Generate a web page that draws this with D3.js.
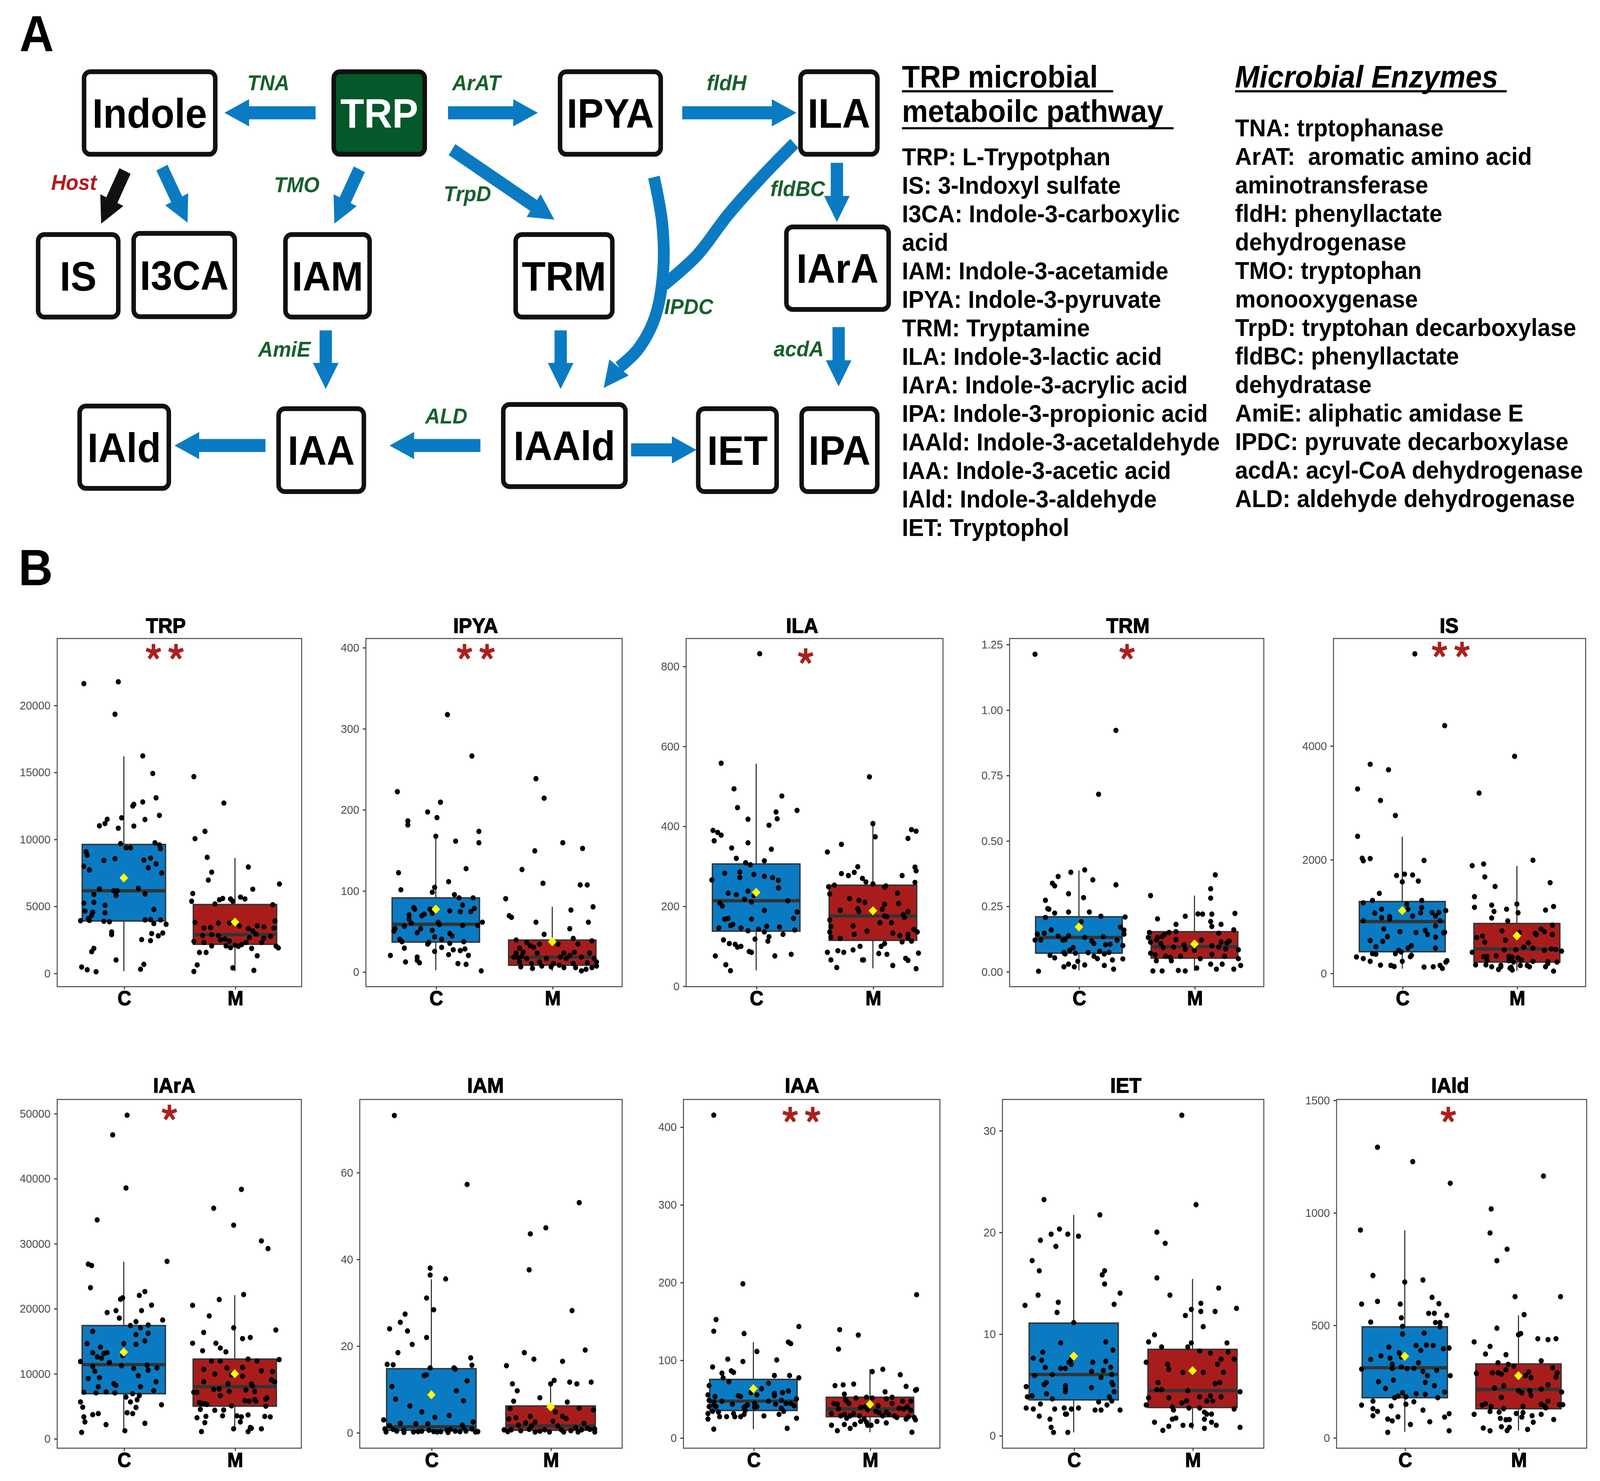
<!DOCTYPE html>
<html>
<head>
<meta charset="utf-8">
<script src="https://cdn.jsdelivr.net/npm/d3@7/dist/d3.min.js"></script>
<style>
  html, body { margin: 0; padding: 0; background: #fff; overflow: hidden; width: 100%; height: 100%; }
  svg { display: block; }
  text { font-family: "Liberation Sans", Arial, sans-serif; }
</style>
</head>
<body>
<div id="chart"></div>
<script>
// ---------------- data ----------------
var metabolites = ["TRP", "IPYA", "ILA", "TRM", "IS", "IArA", "IAM", "IAA", "IET", "IAld"];
var groups = ["C", "M"];
var significance = ["**", "**", "*", "*", "**", "*", "", "**", "", "*"];

var yTicks = [
  [0, 5000, 10000, 15000, 20000],
  [0, 100, 200, 300, 400],
  [0, 200, 400, 600, 800],
  [0, 0.25, 0.5, 0.75, 1, 1.25],
  [0, 2000, 4000],
  [0, 10000, 20000, 30000, 40000, 50000],
  [0, 20, 40, 60],
  [0, 100, 200, 300, 400],
  [0, 10, 20, 30],
  [0, 500, 1000, 1500]
];

// axis extents
var yDomains = [
  [-1014, 24971], [-18.5, 410.9], [-1.9, 869], [-0.058, 1.272], [-239, 5884],
  [-1487, 52122], [-3.63, 76.8], [-13.5, 435.2], [-1.25, 33.05], [-47.3, 1502.4]
];

// box stats: [lower whisker, q1, median, q3, upper whisker, mean]
var statsC = [
  [143, 3889, 6141, 9600, 16171, 7103],
  [2, 36.5, 58.4, 91, 168, 77],
  [39, 137, 213, 305, 556, 234],
  [0.004, 0.070, 0.130, 0.209, 0.386, 0.170],
  [77, 376, 906, 1258, 2400, 1099],
  [1190, 6890, 11360, 17360, 27150, 13280],
  [0.1, 0.5, 1.3, 14.7, 35.3, 8.7],
  [11, 35, 47, 75, 123, 63],
  [0.3, 3.5, 6.0, 11.05, 21.7, 7.8],
  [25, 177, 310, 492, 921, 361]
];
var statsM = [
  [143, 2149, 2866, 5118, 8597, 3807],
  [1, 8, 18, 39, 80, 37],
  [44, 114, 175, 252, 404, 188],
  [0.002, 0.051, 0.095, 0.152, 0.290, 0.105],
  [39, 193, 424, 872, 1884, 655],
  [1280, 4980, 7960, 12210, 22040, 9960],
  [0.2, 0.5, 1.5, 6.1, 10.9, 5.9],
  [7, 27, 37, 52, 88, 43],
  [0.6, 2.75, 4.41, 8.47, 15.4, 6.37],
  [31, 128, 214, 327, 543, 275]
];

// jittered samples: [jitter offset in category units, value]
var trpC = [[-0.36,21600],[-0.05,21740],[-0.08,19320],[0.17,16210],[0.26,14900],[0.29,13080],[0.32,11770],[0.17,12770],[0.09,12590],[0.08,12470],[0.19,11460],[-0.02,11590],[-0.15,11480],[-0.17,11160],[-0.22,10990],[-0.05,10810],[0.09,10970],[0.28,9720],[0.32,9560],[0.33,9290],[-0.03,9660],[0.02,9350],[0.06,9350],[-0.34,9050],[-0.33,8800],[-0.18,8410],[-0.08,8540],[0.18,8430],[0.24,8580],[0.29,8150],[0.34,7470],[-0.36,7980],[-0.31,7700],[0.22,7860],[0.13,6330],[-0.22,6280],[0.19,5900],[-0.27,5870],[-0.09,6140],[-0.06,6140],[-0.07,5790],[-0.27,5280],[-0.36,5220],[-0.17,5060],[-0.35,4630],[0.27,4750],[-0.28,4540],[-0.29,4300],[-0.17,4500],[-0.32,4070],[-0.39,3910],[-0.31,3930],[-0.18,3870],[-0.13,3830],[0.19,3970],[0.24,3990],[0.33,3970],[0.27,3700],[0.38,3640],[-0.11,3070],[-0.11,2870],[0.25,2950],[0.35,2990],[0.31,2780],[0.16,2500],[0.24,2420],[-0.27,1840],[-0.29,1600],[-0.07,980],[0.18,650],[-0.38,450],[-0.33,250],[-0.25,100],[0.15,290]];
var trpM = [[-0.37,14660],[-0.10,12690],[-0.36,10030],[-0.27,10580],[-0.25,8640],[-0.21,7530],[-0.24,6940],[0.12,7920],[0.16,6260],[0.40,6650],[-0.38,5940],[-0.39,5360],[-0.18,5160],[-0.14,5470],[-0.11,5570],[-0.04,5530],[-0.02,5360],[0.05,5670],[0.09,5530],[0.34,5100],[-0.36,3790],[-0.28,3360],[-0.22,3400],[-0.21,2870],[-0.15,2800],[-0.13,2480],[-0.09,2540],[-0.29,2800],[-0.37,2370],[-0.28,2290],[-0.21,2030],[-0.08,2030],[-0.04,1900],[0.00,2090],[0.03,1990],[0.06,2130],[0.10,2290],[0.13,2640],[0.15,1840],[0.16,3150],[0.20,3520],[0.26,3440],[0.36,3890],[0.35,3360],[0.32,2740],[0.37,2010],[0.39,1880],[0.26,2600],[0.19,2910],[0.12,3320],[0.04,3520],[-0.05,2400],[0.24,2290],[-0.32,1540],[-0.26,1540],[0.20,1290],[-0.34,610],[-0.37,120],[-0.02,390],[0.17,200],[-0.05,3730],[-0.15,3730]];

var ipyaC = [[-0.33,222],[0.10,317],[0.31,266],[-0.07,197],[0.04,209],[0.01,190],[-0.24,186],[-0.24,181],[0.37,173],[0.37,159],[0.00,167],[0.17,161],[0.26,127],[-0.32,122],[-0.30,101],[0.11,111],[-0.01,104],[-0.03,98],[0.16,95],[0.20,91],[0.32,91],[0.23,82],[0.33,78],[-0.19,79],[-0.18,77],[-0.05,77],[-0.03,72],[-0.10,71],[0.12,75],[0.21,74],[0.30,74],[-0.23,70],[-0.12,69],[0.02,61],[0.03,58],[0.23,57],[0.36,57],[0.40,61],[-0.23,65],[-0.21,60],[-0.27,56],[-0.35,53],[-0.36,50],[-0.03,51],[-0.16,48],[-0.13,53],[0.12,47],[0.14,44],[-0.01,43],[-0.31,40],[-0.29,37],[-0.06,36],[0.05,40],[0.12,35],[0.24,37],[-0.07,34],[0.05,30],[-0.27,29],[0.15,27],[0.21,26],[0.25,28],[-0.01,25],[0.11,21],[-0.39,20],[0.28,20],[-0.16,18],[-0.16,14],[-0.26,12],[-0.14,11],[0.19,10],[0.26,9],[0.39,1]];
var ipyaM = [[-0.14,238],[-0.07,214],[0.09,159],[0.26,152],[-0.15,149],[-0.26,126],[0.24,107],[0.30,107],[-0.08,109],[-0.40,90],[0.35,80],[0.16,76],[-0.37,69],[-0.35,67],[-0.14,61],[0.31,61],[0.15,53],[-0.07,46],[0.18,41],[-0.31,39],[-0.22,36],[-0.11,34],[0.05,34],[0.22,34],[0.34,38],[-0.28,29],[-0.19,32],[-0.16,30],[-0.31,23],[-0.25,24],[-0.13,23],[0.10,23],[0.19,24],[0.32,23],[-0.33,18],[-0.29,17],[-0.26,19],[-0.22,16],[-0.05,16],[0.07,18],[0.12,16],[0.15,20],[0.25,18],[0.36,16],[-0.28,12],[-0.18,10],[-0.11,12],[0.01,10],[0.06,8],[0.18,10],[0.30,11],[0.38,12],[-0.27,6],[-0.17,4],[-0.09,7],[-0.01,6],[0.10,5],[0.20,5],[0.25,1],[0.29,3],[0.34,5],[0.38,7]];

var ilaC = [[0.03,831],[-0.30,557],[-0.19,493],[-0.16,446],[0.22,475],[0.35,439],[0.17,435],[0.18,418],[-0.07,417],[0.11,402],[-0.37,389],[-0.33,384],[-0.30,377],[-0.36,363],[-0.07,358],[-0.21,345],[0.13,342],[-0.17,319],[0.07,313],[-0.09,308],[-0.05,303],[-0.27,282],[-0.14,285],[-0.02,279],[0.07,274],[0.14,271],[0.19,264],[-0.38,265],[-0.14,271],[0.19,245],[-0.24,232],[-0.17,228],[-0.07,237],[-0.02,226],[-0.10,217],[-0.04,210],[-0.31,207],[-0.29,200],[0.27,213],[0.07,189],[0.35,185],[-0.27,167],[-0.24,169],[-0.04,167],[0.32,169],[-0.22,151],[-0.20,154],[-0.32,145],[-0.13,145],[0.09,149],[0.20,147],[0.33,140],[-0.07,138],[0.02,142],[0.07,135],[0.23,129],[0.11,123],[-0.28,115],[-0.23,106],[-0.18,104],[-0.16,97],[-0.13,99],[0.10,112],[-0.01,117],[-0.06,86],[-0.04,84],[0.30,79],[-0.35,75],[0.16,75],[-0.26,53],[-0.22,38]];
var ilaM = [[-0.03,523],[0.00,406],[0.02,373],[0.33,391],[0.37,387],[0.30,369],[-0.39,335],[-0.27,354],[-0.13,298],[0.36,297],[0.37,288],[-0.27,281],[-0.21,276],[-0.16,284],[-0.09,269],[-0.06,260],[0.25,276],[0.36,259],[-0.33,252],[-0.38,248],[0.10,247],[0.11,250],[0.00,255],[-0.37,230],[0.21,232],[-0.20,219],[-0.12,214],[-0.07,209],[0.10,204],[0.22,206],[-0.28,189],[-0.13,193],[-0.12,186],[0.08,192],[0.30,186],[0.10,175],[0.12,173],[0.26,178],[0.27,171],[-0.37,165],[-0.17,150],[-0.36,149],[-0.37,135],[-0.05,137],[0.06,158],[0.16,158],[0.17,132],[0.23,126],[0.30,129],[0.35,141],[0.38,135],[-0.16,129],[-0.28,119],[-0.36,122],[0.25,110],[0.30,120],[0.33,112],[0.10,106],[-0.11,99],[0.07,99],[-0.39,84],[-0.30,88],[-0.25,84],[-0.17,90],[0.05,81],[0.12,79],[0.39,82],[-0.36,65],[-0.09,65],[-0.08,65],[0.28,69],[0.30,64],[-0.31,46],[0.17,51],[0.37,43]];

var trmC = [[-0.38,1.212],[0.32,0.921],[0.17,0.677],[0.05,0.388],[-0.07,0.379],[-0.18,0.363],[-0.23,0.337],[-0.21,0.327],[0.12,0.350],[0.32,0.331],[-0.09,0.297],[0.04,0.282],[-0.29,0.272],[-0.27,0.240],[-0.26,0.238],[-0.21,0.223],[-0.09,0.227],[0.09,0.227],[0.19,0.211],[0.40,0.208],[-0.29,0.206],[0.02,0.190],[-0.24,0.159],[0.36,0.169],[0.39,0.158],[-0.36,0.143],[-0.30,0.146],[-0.18,0.135],[-0.09,0.137],[0.05,0.130],[0.21,0.133],[0.33,0.119],[-0.33,0.120],[-0.38,0.120],[-0.14,0.120],[-0.12,0.122],[0.11,0.117],[0.39,0.143],[0.38,0.099],[0.23,0.102],[0.13,0.107],[0.27,0.104],[-0.05,0.091],[-0.08,0.081],[-0.13,0.072],[-0.12,0.067],[-0.03,0.070],[0.08,0.072],[0.18,0.077],[0.22,0.067],[0.26,0.073],[-0.25,0.062],[-0.21,0.052],[0.13,0.058],[0.16,0.049],[0.29,0.044],[0.38,0.048],[-0.01,0.039],[-0.09,0.028],[-0.04,0.018],[0.05,0.025],[-0.13,0.018],[0.22,0.023],[0.30,0.009],[-0.35,0.001]];
var trmM = [[0.18,0.369],[0.14,0.316],[0.14,0.280],[-0.38,0.290],[-0.08,0.211],[0.03,0.220],[0.07,0.219],[0.15,0.219],[0.35,0.222],[-0.32,0.201],[-0.16,0.180],[0.14,0.191],[0.15,0.172],[0.23,0.180],[-0.22,0.149],[-0.16,0.152],[-0.26,0.141],[-0.39,0.149],[0.34,0.159],[0.21,0.146],[-0.32,0.130],[-0.28,0.133],[-0.40,0.130],[-0.38,0.112],[-0.33,0.120],[-0.16,0.122],[0.06,0.120],[0.23,0.112],[0.28,0.109],[0.30,0.116],[-0.29,0.107],[-0.18,0.093],[-0.27,0.091],[-0.09,0.102],[0.00,0.081],[0.15,0.098],[0.21,0.093],[0.27,0.086],[0.38,0.083],[-0.08,0.085],[-0.38,0.070],[-0.34,0.064],[-0.25,0.058],[-0.21,0.054],[-0.12,0.058],[0.15,0.065],[0.26,0.058],[0.38,0.049],[0.05,0.049],[0.14,0.028],[-0.20,0.041],[-0.33,0.041],[0.24,0.028],[0.40,0.023],[0.02,0.013],[-0.36,0.002],[-0.28,0.002],[-0.14,0.004],[-0.08,0.002],[0.19,0.009],[0.34,0.009]];

var isC = [[0.11,5614],[0.37,4352],[-0.28,3672],[-0.12,3576],[-0.39,3238],[-0.19,3036],[-0.06,2771],[-0.39,2405],[-0.35,2019],[-0.34,1976],[-0.28,2014],[0.19,1981],[-0.05,1716],[0.02,1740],[0.09,1725],[0.14,1619],[0.00,1605],[-0.20,1402],[-0.34,1234],[-0.26,1277],[0.17,1277],[0.04,1210],[-0.18,1123],[0.17,1152],[0.05,1123],[-0.24,1055],[-0.11,993],[-0.11,954],[-0.18,973],[0.09,1002],[0.16,1060],[0.26,1065],[0.32,1065],[0.38,1099],[0.29,1002],[0.33,920],[-0.34,920],[-0.16,776],[-0.02,728],[0.12,713],[0.20,752],[0.22,679],[0.29,829],[0.36,708],[0.37,718],[-0.13,641],[0.29,631],[-0.28,573],[-0.17,559],[-0.23,463],[0.08,482],[0.05,439],[0.29,439],[-0.03,400],[-0.01,371],[-0.26,342],[-0.23,332],[-0.06,342],[0.08,313],[0.07,289],[-0.40,284],[-0.34,255],[-0.28,207],[0.00,207],[0.39,217],[0.38,193],[-0.19,140],[-0.10,135],[-0.07,116],[0.19,106],[0.27,111],[0.33,135],[0.35,82]];
var isM = [[-0.02,3812],[-0.33,3166],[-0.39,1889],[-0.29,1918],[0.14,1985],[-0.28,1692],[-0.19,1523],[0.29,1590],[-0.37,1344],[-0.37,1157],[-0.22,1195],[-0.09,1123],[0.00,1214],[0.01,1060],[0.25,1108],[0.32,1171],[-0.20,1084],[-0.22,969],[-0.08,916],[0.31,843],[0.21,776],[-0.13,742],[0.02,713],[-0.35,626],[-0.30,651],[-0.28,545],[0.17,679],[0.24,728],[0.31,679],[0.16,699],[-0.10,578],[0.06,458],[0.10,530],[0.14,439],[0.24,400],[0.30,424],[0.34,414],[0.39,386],[-0.39,366],[-0.11,405],[-0.01,410],[-0.29,289],[-0.26,289],[-0.18,304],[-0.07,294],[-0.04,280],[0.01,265],[0.04,231],[-0.26,227],[-0.07,217],[-0.03,193],[0.14,207],[0.27,198],[0.35,193],[-0.36,145],[-0.27,145],[-0.14,135],[-0.22,111],[-0.14,111],[-0.05,101],[0.03,135],[0.09,135],[0.11,111],[0.25,111],[0.27,169],[-0.16,63],[-0.04,53],[0.32,34],[-0.06,87]];

var iaraC = [[0.03,49700],[-0.10,46680],[0.02,38510],[-0.24,33610],[-0.32,26810],[-0.29,26590],[0.39,27230],[-0.30,23190],[0.19,22590],[0.14,22000],[-0.01,21620],[-0.03,21400],[0.25,20510],[0.16,19660],[-0.07,19660],[-0.15,19360],[-0.04,18510],[0.35,18210],[0.11,17960],[0.22,17450],[0.06,17360],[0.15,17020],[0.11,15960],[0.22,16170],[-0.28,16470],[0.19,15020],[0.00,14590],[0.11,14470],[-0.33,14590],[-0.21,14040],[-0.28,13190],[-0.18,13060],[-0.15,13190],[-0.24,12550],[-0.20,12340],[-0.01,12770],[-0.13,11700],[-0.39,11830],[-0.28,11060],[-0.02,11190],[0.21,11280],[0.30,10850],[0.22,10510],[-0.26,10340],[0.09,10770],[0.13,9660],[-0.22,9360],[-0.32,9230],[0.29,8720],[-0.09,8420],[-0.07,8170],[0.15,7960],[-0.23,7960],[0.27,7360],[-0.36,7110],[-0.25,7020],[-0.16,7150],[-0.08,7020],[0.08,6890],[0.14,6600],[0.02,6380],[0.12,5960],[0.06,5620],[-0.39,5620],[-0.37,4810],[0.34,5190],[0.11,4770],[0.03,3960],[0.08,3830],[-0.23,3830],[-0.28,3660],[-0.36,3320],[-0.35,2550],[-0.16,2130],[0.19,2340],[0.01,1190],[-0.38,940]];
var iaraM = [[0.06,38300],[-0.19,35400],[-0.01,32800],[0.24,30380],[0.30,29190],[0.08,22130],[-0.38,20470],[-0.14,21360],[-0.23,18850],[-0.01,17020],[0.37,16680],[-0.28,16300],[0.14,15530],[0.07,15360],[-0.17,14640],[-0.38,14640],[-0.13,13910],[-0.08,13320],[-0.29,13490],[0.12,12210],[-0.13,11910],[-0.21,11910],[0.20,11910],[0.40,12130],[0.07,10940],[-0.28,10640],[-0.07,10850],[0.24,10420],[0.34,10300],[-0.18,9910],[-0.03,9790],[0.07,9570],[0.15,8380],[0.33,9020],[0.36,8720],[-0.28,8720],[-0.06,8420],[0.16,8080],[-0.19,7530],[-0.14,7620],[-0.05,7230],[0.10,7450],[0.18,7230],[-0.37,7110],[-0.34,7110],[-0.13,6600],[0.29,6250],[0.09,5830],[0.13,5740],[0.18,5960],[0.19,5740],[0.28,6080],[-0.32,5530],[-0.30,5400],[-0.27,5320],[-0.25,5230],[-0.03,5020],[0.28,4980],[-0.31,4470],[-0.18,4340],[-0.10,4380],[-0.11,3490],[0.02,3490],[0.06,3320],[0.12,3620],[0.27,3400],[0.32,3320],[-0.34,3190],[-0.26,3400],[0.05,2550],[-0.27,2430],[-0.01,1490],[0.14,1700],[0.15,1570],[0.24,1490],[-0.30,1060],[0.12,1060]];

var iamC = [[-0.31,73.1],[0.30,57.2],[-0.01,37.9],[-0.01,36.3],[0.12,35.4],[-0.04,31.0],[0.02,28.3],[-0.22,27.3],[-0.26,25.4],[-0.35,23.9],[-0.20,23.4],[-0.04,21.9],[-0.16,20.3],[-0.28,18.4],[0.33,17.2],[-0.37,15.7],[-0.32,15.6],[0.34,15.5],[-0.01,14.9],[0.19,14.9],[0.20,14.6],[-0.06,13.1],[-0.04,13.3],[0.30,11.9],[-0.33,10.6],[0.21,9.6],[-0.01,8.7],[0.27,7.3],[-0.30,7.7],[-0.18,6.1],[-0.08,4.7],[0.03,3.5],[0.15,3.9],[-0.40,2.9],[0.35,2.4],[-0.13,2.0],[-0.03,2.0],[-0.26,2.1],[-0.35,1.6],[0.26,1.7],[0.27,1.2],[0.34,0.8],[-0.39,0.8],[-0.32,0.7],[-0.29,0.3],[-0.23,0.5],[-0.15,0.1],[-0.08,0.3],[-0.02,0.5],[0.02,0.2],[0.08,0.2],[0.13,0.5],[0.16,0.7],[0.20,0.3],[0.24,0.2],[0.29,0.3],[0.37,0.1],[-0.38,0.1],[-0.23,0.0],[-0.11,0.2],[0.05,0.1],[0.14,0.0],[0.39,0.2]];
var iamM = [[0.24,53.0],[-0.04,47.2],[-0.17,45.8],[-0.18,37.5],[0.18,28.1],[0.29,19.0],[-0.22,18.4],[-0.14,16.9],[0.10,16.4],[-0.37,15.4],[0.03,12.0],[0.16,11.6],[0.22,11.2],[0.34,11.6],[-0.32,11.2],[0.00,11.2],[-0.28,9.6],[-0.09,8.0],[-0.31,7.2],[0.14,7.0],[-0.34,5.5],[0.24,5.6],[0.36,5.2],[0.04,4.7],[-0.29,3.4],[-0.17,3.7],[0.10,3.7],[0.13,3.2],[-0.35,3.1],[-0.21,2.2],[-0.13,2.4],[0.02,2.6],[0.28,2.1],[-0.27,1.7],[-0.16,1.5],[0.06,1.5],[0.21,1.1],[0.31,1.0],[0.37,0.8],[-0.39,0.6],[-0.33,0.6],[-0.25,0.4],[-0.18,0.7],[-0.09,0.3],[-0.05,0.6],[0.09,0.6],[0.17,0.4],[0.26,0.6],[0.33,0.7],[-0.36,0.2],[-0.13,0.1],[-0.01,0.1],[0.11,0.1],[0.23,0.1],[0.37,0.1]];

var iaaC = [[-0.34,415],[-0.09,198],[-0.32,152],[0.39,143],[-0.34,137],[-0.08,134],[0.30,123],[0.32,121],[0.03,111],[-0.22,101],[0.20,100],[-0.09,98],[-0.35,91],[-0.19,86],[-0.17,84],[-0.27,83],[0.18,80],[0.31,80],[-0.26,77],[0.39,77],[-0.21,72],[0.13,70],[-0.38,67],[0.07,63],[0.00,62],[-0.02,58],[-0.13,54],[0.18,57],[0.25,58],[0.30,60],[-0.33,53],[-0.39,55],[0.03,55],[-0.11,53],[0.18,54],[-0.38,48],[0.37,50],[-0.27,47],[-0.34,46],[0.13,47],[0.24,48],[0.01,44],[-0.34,42],[-0.18,43],[-0.05,42],[0.19,43],[0.28,44],[0.32,44],[-0.38,40],[-0.32,40],[-0.07,40],[0.01,39],[0.03,40],[0.24,38],[0.35,41],[-0.35,34],[-0.30,33],[-0.08,39],[-0.07,35],[0.26,34],[-0.39,31],[-0.17,31],[0.09,28],[0.22,30],[-0.08,30],[-0.29,27],[-0.23,27],[-0.16,27],[-0.11,27],[-0.39,24],[0.37,25],[0.29,12],[-0.34,11]];
var iaaM = [[0.40,184],[-0.26,139],[-0.10,132],[-0.27,114],[0.11,88],[0.02,85],[0.26,81],[0.31,66],[0.40,62],[0.39,61],[-0.14,69],[-0.23,68],[-0.30,67],[0.13,59],[-0.22,56],[0.19,52],[0.14,50],[-0.03,52],[0.02,51],[-0.12,51],[-0.21,49],[-0.31,44],[-0.28,43],[-0.20,47],[-0.18,44],[0.07,41],[-0.04,40],[0.19,44],[0.28,47],[0.35,47],[-0.08,39],[0.32,40],[0.25,38],[-0.27,37],[-0.02,36],[0.05,34],[0.14,33],[0.35,35],[0.29,37],[-0.33,31],[-0.25,28],[-0.22,30],[-0.17,28],[-0.14,31],[-0.09,28],[0.08,32],[0.11,28],[0.16,30],[0.21,28],[0.23,26],[0.33,27],[0.38,26],[-0.20,25],[-0.05,24],[0.31,24],[0.39,23],[-0.08,21],[-0.03,20],[0.06,21],[0.14,19],[-0.33,16],[-0.22,17],[-0.13,17],[-0.02,16],[0.01,16],[-0.28,9],[-0.17,12],[0.36,7]];

var ietC = [[-0.25,23.2],[0.22,21.7],[-0.28,19.2],[-0.19,19.8],[-0.12,20.3],[-0.05,19.8],[0.04,19.6],[-0.15,18.6],[-0.35,17.2],[-0.29,16.2],[0.24,15.8],[0.26,16.2],[0.26,14.9],[0.39,14.0],[-0.30,13.8],[-0.41,12.8],[0.34,12.9],[-0.13,13.1],[-0.14,12.1],[0.00,11.1],[-0.11,9.1],[0.27,9.2],[0.33,8.4],[-0.26,8.2],[-0.34,7.6],[-0.27,7.4],[-0.02,7.5],[-0.04,7.2],[0.16,7.2],[0.27,7.3],[-0.07,6.6],[-0.24,6.7],[-0.11,6.6],[-0.02,7.0],[0.31,6.7],[-0.33,5.9],[-0.18,6.0],[0.15,6.3],[0.25,6.4],[0.23,5.7],[0.32,6.0],[-0.23,5.2],[-0.25,5.0],[-0.07,4.9],[0.32,5.2],[0.33,5.0],[-0.40,4.8],[-0.07,4.6],[0.34,4.3],[-0.23,4.1],[-0.07,4.3],[0.15,4.7],[-0.35,3.9],[-0.39,3.8],[-0.18,3.6],[0.30,3.8],[0.32,3.4],[0.21,3.3],[-0.28,3.1],[0.28,3.0],[-0.40,2.7],[-0.34,2.6],[-0.16,2.6],[-0.08,2.7],[-0.02,2.6],[0.04,2.7],[0.18,2.5],[0.23,2.5],[0.39,2.5],[-0.07,2.1],[-0.06,2.1],[-0.29,1.9],[-0.20,1.6],[-0.19,0.8],[-0.17,0.3],[-0.05,0.3]];
var ietM = [[-0.09,31.5],[0.03,22.7],[-0.30,20.0],[-0.23,18.9],[-0.30,15.5],[0.22,14.5],[-0.19,13.8],[0.07,13.0],[0.37,12.5],[-0.06,11.8],[-0.01,12.4],[0.07,12.2],[0.19,12.2],[0.09,10.7],[-0.37,9.2],[-0.32,9.9],[-0.01,9.1],[0.29,9.1],[-0.26,8.7],[-0.04,8.7],[0.06,8.3],[0.15,8.1],[0.30,8.2],[-0.39,7.2],[0.24,7.5],[0.35,7.5],[-0.21,7.0],[-0.20,6.5],[-0.08,6.2],[0.00,6.4],[0.21,7.0],[0.09,6.2],[0.26,6.2],[-0.29,5.2],[0.23,5.2],[0.19,5.1],[-0.30,4.5],[-0.26,4.5],[-0.04,4.4],[0.40,4.3],[-0.37,3.7],[-0.20,3.7],[0.06,3.8],[0.15,3.9],[0.24,3.8],[-0.05,3.4],[0.12,3.4],[0.17,3.4],[-0.09,3.2],[-0.39,3.0],[-0.17,2.8],[-0.16,2.5],[-0.03,2.7],[0.06,2.7],[0.35,2.6],[0.10,2.3],[0.12,2.1],[0.16,2.1],[-0.14,1.7],[-0.17,1.6],[0.10,1.6],[0.16,1.3],[-0.32,1.3],[-0.20,0.9],[-0.08,1.0],[-0.01,1.0],[0.10,0.7],[0.20,1.0],[0.40,0.8],[-0.25,0.5]];

var ialdC = [[-0.24,1290],[0.07,1226],[0.40,1130],[-0.39,922],[-0.28,720],[0.16,700],[0.00,691],[-0.24,605],[-0.38,593],[-0.04,593],[0.24,623],[0.30,595],[0.21,552],[0.26,552],[0.37,543],[-0.03,532],[-0.30,513],[0.27,511],[0.31,511],[0.31,492],[-0.02,494],[-0.02,460],[0.17,464],[0.10,409],[0.19,411],[0.25,409],[0.14,387],[0.34,395],[0.39,398],[-0.14,402],[-0.21,363],[-0.05,376],[-0.13,353],[-0.30,347],[0.12,332],[-0.11,326],[-0.03,358],[-0.11,307],[-0.38,304],[-0.03,314],[0.02,306],[0.08,307],[0.16,294],[0.28,298],[0.20,275],[0.40,275],[-0.23,248],[-0.10,255],[-0.17,218],[0.18,245],[0.26,230],[0.35,202],[-0.02,199],[0.10,195],[0.18,192],[-0.09,177],[-0.06,184],[0.01,181],[0.29,177],[-0.28,162],[-0.38,144],[-0.12,140],[0.01,148],[0.08,159],[-0.28,128],[-0.24,116],[0.16,122],[-0.28,97],[0.39,106],[-0.15,82],[-0.11,74],[-0.06,92],[0.35,91],[0.22,70],[0.05,58],[-0.15,23],[0.39,30]];
var ialdM = [[0.22,1162],[-0.24,1016],[-0.25,909],[-0.10,837],[-0.19,786],[-0.03,626],[0.37,626],[0.05,546],[-0.19,486],[0.00,457],[0.02,462],[0.17,439],[0.26,435],[0.33,439],[-0.39,425],[-0.25,405],[-0.29,371],[-0.11,368],[0.20,341],[-0.18,332],[-0.09,325],[-0.04,316],[0.30,310],[-0.37,285],[-0.23,288],[-0.18,288],[-0.15,282],[-0.11,301],[0.09,291],[0.06,275],[0.11,266],[0.34,288],[0.33,269],[-0.13,230],[0.26,234],[-0.21,220],[0.00,208],[0.02,202],[0.03,199],[0.10,208],[0.11,187],[0.20,215],[0.38,202],[-0.15,178],[0.26,162],[-0.32,144],[-0.29,150],[-0.24,138],[0.04,138],[0.20,148],[0.23,140],[0.24,132],[0.36,146],[0.39,146],[-0.25,116],[-0.17,113],[-0.13,128],[-0.02,107],[-0.39,103],[0.04,111],[0.12,97],[0.20,103],[0.03,91],[-0.16,85],[-0.11,79],[-0.08,80],[0.13,68],[0.31,80],[-0.31,42],[-0.25,30],[-0.15,48],[-0.10,31],[-0.08,45],[0.08,36]];

var samplesC = [trpC, ipyaC, ilaC, trmC, isC, iaraC, iamC, iaaC, ietC, ialdC];
var samplesM = [trpM, ipyaM, ilaM, trmM, isM, iaraM, iamM, iaaM, ietM, ialdM];

// pathway (panel A)
var nodeNames = ["Indole", "TRP", "IPYA", "ILA", "IS", "I3CA", "IAM", "TRM", "IArA", "IAld", "IAA", "IAAld", "IET", "IPA"];
var enzymeLabels = ["TNA", "ArAT", "fldH", "TMO", "TrpD", "fldBC", "IPDC", "AmiE", "acdA", "ALD"];
var metaboliteLegend = ["TRP: L-Trypotphan", "IS: 3-Indoxyl sulfate", "I3CA: Indole-3-carboxylic", "acid",
  "IAM: Indole-3-acetamide", "IPYA: Indole-3-pyruvate", "TRM: Tryptamine", "ILA: Indole-3-lactic acid",
  "IArA: Indole-3-acrylic acid", "IPA: Indole-3-propionic acid", "IAAld: Indole-3-acetaldehyde",
  "IAA: Indole-3-acetic acid", "IAld: Indole-3-aldehyde", "IET: Tryptophol"];
var enzymeLegend = ["TNA: trptophanase", "ArAT:  aromatic amino acid", "aminotransferase", "fldH: phenyllactate",
  "dehydrogenase", "TMO: tryptophan", "monooxygenase", "TrpD: tryptohan decarboxylase", "fldBC: phenyllactate",
  "dehydratase", "AmiE: aliphatic amidase E", "IPDC: pyruvate decarboxylase", "acdA: acyl-CoA dehydrogenase",
  "ALD: aldehyde dehydrogenase"];

// ---------------- layout (view units) ----------------
var VW = 1561, VH = 1561 * 3791 / 4342;
var blue = "#0a7bc2", red = "#a81d1b", green = "#17602c", darkGreen = "#04582a";

// fit the drawing to the window
var svg = d3.select("#chart").append("svg")
  .attr("width", window.innerWidth).attr("height", window.innerHeight)
  .attr("viewBox", "0 0 " + VW + " " + VH)
  .attr("preserveAspectRatio", "none");
svg.append("rect").attr("width", VW).attr("height", VH).attr("fill", "#fff");

// panel letters
svg.append("text").attr("x", 19).attr("y", 47).attr("font-size", 46.5).attr("font-weight", "bold").text("A");
svg.append("text").attr("x", 18).attr("y", 538.5).attr("font-size", 46.5).attr("font-weight", "bold").text("B");

// ---- panel A ----
var nodeBox = {
  Indole: [82, 66, 128, 76], TRP: [325.6, 66, 88.8, 76], IPYA: [546.4, 66, 98.2, 76], ILA: [781, 66, 75, 76],
  IS: [37.2, 215.8, 78.2, 76], I3CA: [130.4, 214.8, 98.7, 76.6], IAM: [278.5, 215.8, 82.1, 76],
  TRM: [503.1, 215.8, 94.3, 76], IArA: [767.2, 208.8, 99.8, 76], IAld: [77.7, 373.7, 87, 75.7],
  IAA: [271.8, 376.1, 83.2, 76.3], IAAld: [491, 372.2, 119.2, 75.6], IET: [681.2, 376.1, 76.5, 76.3],
  IPA: [782.1, 376.1, 73.8, 76.3]
};

function blockArrow(x1, y1, x2, y2, sw, hw, hl) {
  var dx = x2 - x1, dy = y2 - y1, L = Math.hypot(dx, dy);
  var ux = dx / L, uy = dy / L, nx = -uy, ny = ux;
  var bx = x2 - ux * hl, by = y2 - uy * hl;
  var p = [
    [x1 + nx * sw / 2, y1 + ny * sw / 2], [bx + nx * sw / 2, by + ny * sw / 2],
    [bx + nx * hw / 2, by + ny * hw / 2], [x2, y2],
    [bx - nx * hw / 2, by - ny * hw / 2], [bx - nx * sw / 2, by - ny * sw / 2],
    [x1 - nx * sw / 2, y1 - ny * sw / 2]];
  return "M" + p.join("L") + "Z";
}

var gA = svg.append("g");

// straight arrows: [x1, y1, x2, y2]
var straightArrows = [
  [307.9, 103.8, 219, 103.8], [437.1, 103.8, 524.7, 103.8], [665.6, 103.8, 777, 103.8],
  [158, 154.3, 183, 204.9], [350.6, 155.8, 326.2, 205.8], [441, 137.7, 540.8, 202.1],
  [816.5, 149.8, 816.5, 204.3], [317.8, 304.1, 317.8, 358], [547, 304.1, 547, 358],
  [818.2, 301, 818.2, 355.6], [468.7, 410, 380, 410], [259, 410, 170.3, 410], [615.7, 414, 679.5, 414]
];
gA.selectAll("path.arr").data(straightArrows).enter().append("path")
  .attr("class", "arr")
  .attr("d", function(d) { return blockArrow(d[0], d[1], d[2], d[3], 12, 25, 24); })
  .attr("fill", blue);

// host arrow (black)
gA.append("path").attr("d", blockArrow(122, 157.4, 98.7, 205.8, 12, 25, 24)).attr("fill", "#111");

// curved arrows IPYA -> IAAld and ILA -> IAAld
var curve = d3.line().curve(d3.curveCatmullRom);
gA.append("path")
  .attr("d", curve([[638, 163], [646, 205], [647, 250], [639, 292], [622, 322], [604, 338]]))
  .attr("fill", "none").attr("stroke", blue).attr("stroke-width", 11.5);
gA.append("path")
  .attr("d", curve([[775, 132], [742, 164], [710, 198], [680, 235], [648, 262]]))
  .attr("fill", "none").attr("stroke", blue).attr("stroke-width", 11.5);
gA.append("path").attr("d", blockArrow(606, 335.5, 589, 357, 0.1, 24, 24)).attr("fill", blue);

// nodes
var nodes = gA.selectAll("g.node").data(nodeNames).enter().append("g").attr("class", "node");
nodes.append("rect")
  .attr("x", function(d) { return nodeBox[d][0]; })
  .attr("y", function(d) { return nodeBox[d][1]; })
  .attr("width", function(d) { return nodeBox[d][2]; })
  .attr("height", function(d) { return nodeBox[d][3]; })
  .attr("rx", 6).attr("ry", 6)
  .attr("fill", function(d) { return d == "TRP" ? darkGreen : "#fff"; })
  .attr("stroke", "#111").attr("stroke-width", 4.4);
nodes.append("text")
  .attr("x", function(d) { return nodeBox[d][0] + nodeBox[d][2] / 2; })
  .attr("y", function(d) { return nodeBox[d][1] + nodeBox[d][3] / 2 + 13.6; })
  .attr("text-anchor", "middle").attr("font-size", 38).attr("font-weight", "bold")
  .attr("fill", function(d) { return d == "TRP" ? "#fff" : "#000"; })
  .text(function(d) { return d; });

// enzyme labels
var enzymePos = {
  TNA: [261.8, 83.2], ArAT: [464.8, 83.2], fldH: [708.9, 83.2], TMO: [289.6, 177], TrpD: [456, 185.2],
  fldBC: [778.3, 180.6], IPDC: [672, 289], AmiE: [277.4, 328.3], acdA: [779.3, 327.7], ALD: [435.4, 389.7]
};
gA.selectAll("text.enz").data(enzymeLabels).enter().append("text")
  .attr("class", "enz")
  .attr("x", function(d) { return enzymePos[d][0]; })
  .attr("y", function(d) { return enzymePos[d][1]; })
  .attr("text-anchor", "middle").attr("font-size", 20).attr("font-weight", "bold").attr("font-style", "italic")
  .attr("fill", green).text(function(d) { return d; });
gA.append("text").attr("x", 72.1).attr("y", 174.9).attr("text-anchor", "middle")
  .attr("font-size", 20).attr("font-weight", "bold").attr("font-style", "italic")
  .attr("fill", "#b3191b").text("Host");

// legends
var gL = svg.append("g");
gL.append("text").attr("x", 880).attr("y", 80.5).attr("font-size", 28.5).attr("font-weight", "bold")
  .attr("xml:space", "preserve").text("TRP microbial ");
gL.append("line").attr("x1", 880).attr("x2", 1086).attr("y1", 84).attr("y2", 84).attr("stroke", "#000").attr("stroke-width", 2);
gL.append("text").attr("x", 880).attr("y", 112).attr("font-size", 28.5).attr("font-weight", "bold").text("metaboilc pathway");
gL.append("line").attr("x1", 880).attr("x2", 1145).attr("y1", 118).attr("y2", 118).attr("stroke", "#000").attr("stroke-width", 2);
gL.append("text").attr("x", 1205).attr("y", 80.5).attr("font-size", 28.5).attr("font-weight", "bold")
  .attr("font-style", "italic").text("Microbial Enzymes");
gL.append("line").attr("x1", 1205).attr("x2", 1470).attr("y1", 84).attr("y2", 84).attr("stroke", "#000").attr("stroke-width", 2);

gL.selectAll("text.ml").data(metaboliteLegend).enter().append("text")
  .attr("class", "ml").attr("x", 880).attr("y", function(d, i) { return 152 + i * 26.25; })
  .attr("font-size", 22.6).attr("font-weight", "bold").text(function(d) { return d; });
gL.selectAll("text.el").data(enzymeLegend).enter().append("text")
  .attr("class", "el").attr("x", 1205).attr("y", function(d, i) { return 125.5 + i * 26.25; })
  .attr("font-size", 22.6).attr("font-weight", "bold").attr("xml:space", "preserve").text(function(d) { return d; });

// ---- panel B ----
// [left, right, top, bottom, titleX, sigX, sigY]
var panelLayout = [
  [55.8, 294.3, 587.6, 908, 161.8, 160.7, 600],
  [357, 607, 587.6, 908, 464, 464.2, 600],
  [669.4, 920, 587.6, 908, 782.6, 786, 604],
  [985, 1233, 587.6, 908, 1100.4, 1099.6, 600],
  [1301, 1547, 587.6, 908, 1413.8, 1415.4, 598],
  [55.8, 294, 1011.8, 1332.7, 170, 165.3, 1024],
  [351, 607, 1011.8, 1332.7, 473.7, 0, 0],
  [666.8, 917, 1011.8, 1332.7, 782.5, 781.9, 1026],
  [978, 1233, 1011.8, 1332.7, 1098.4, 0, 0],
  [1304, 1548, 1011.8, 1332.7, 1414.8, 1413, 1026]
];

function drawAsterisk(g, cx, cy, r) {
  for (var k = 0; k < 5; k++) {
    var a = (-90 + 72 * k) * Math.PI / 180;
    g.append("line").attr("x1", cx).attr("y1", cy)
      .attr("x2", cx + r * Math.cos(a)).attr("y2", cy + r * Math.sin(a))
      .attr("stroke", "#ac1f1d").attr("stroke-width", 3.4);
  }
}

function fmtTick(i) {
  if (metabolites[i] == "TRM") return d3.format(".2f");
  return d3.format("d");
}

metabolites.forEach(function(name, i) {
  var L = panelLayout[i];
  var g = svg.append("g");
  var x = d3.scalePoint().domain(groups).range([L[0], L[1]]).padding(0.6);
  var step = x.step();
  var y = d3.scaleLinear().domain(yDomains[i]).range([L[3], L[2]]);

  // title (heavy)
  g.append("text").attr("x", L[4]).attr("y", L[2] < 700 ? 582.3 : 1005.4)
    .attr("text-anchor", "middle").attr("font-size", 19.5).attr("font-weight", "bold")
    .attr("stroke", "#000").attr("stroke-width", 0.6).text(name);

  // y axis
  var ya = g.append("g").attr("transform", "translate(" + L[0] + ",0)")
    .call(d3.axisLeft(y).tickValues(yTicks[i]).tickSize(3).tickPadding(3.5).tickFormat(fmtTick(i)));
  ya.select(".domain").remove();
  ya.selectAll("line").attr("stroke", "#333").attr("stroke-width", 1);
  ya.selectAll("text").attr("fill", "#4d4d4d").attr("font-size", 10.8).attr("font-family", "Liberation Sans, Arial, sans-serif");

  // x axis
  var xa = g.append("g").attr("transform", "translate(0," + L[3] + ")")
    .call(d3.axisBottom(x).tickSize(2.5).tickPadding(1.5));
  xa.select(".domain").remove();
  xa.selectAll("line").attr("stroke", "#333").attr("stroke-width", 1);
  xa.selectAll("text").attr("fill", "#000").attr("font-size", 18.5).attr("font-weight", "bold")
    .attr("stroke", "#000").attr("stroke-width", 0.6)
    .attr("font-family", "Liberation Sans, Arial, sans-serif");

  var grpStats = [statsC[i], statsM[i]];
  var grpPts = [samplesC[i], samplesM[i]];
  var colors = [blue, red];
  var bw = 0.75 * step;

  groups.forEach(function(gr, j) {
    var s = grpStats[j], cx = x(gr);
    // whiskers
    g.append("line").attr("x1", cx).attr("x2", cx).attr("y1", y(s[3])).attr("y2", y(s[4]))
      .attr("stroke", "#222").attr("stroke-width", 1);
    g.append("line").attr("x1", cx).attr("x2", cx).attr("y1", y(s[1])).attr("y2", y(s[0]))
      .attr("stroke", "#222").attr("stroke-width", 1);
    // box
    g.append("rect").attr("x", cx - bw / 2).attr("width", bw)
      .attr("y", y(s[3])).attr("height", y(s[1]) - y(s[3]))
      .attr("fill", colors[j]).attr("stroke", "#333").attr("stroke-width", 1.3);
    // median
    g.append("line").attr("x1", cx - bw / 2).attr("x2", cx + bw / 2)
      .attr("y1", y(s[2])).attr("y2", y(s[2]))
      .attr("stroke", "#333").attr("stroke-width", 3);
  });

  groups.forEach(function(gr, j) {
    g.selectAll("circle.p" + j).data(grpPts[j]).enter().append("circle")
      .attr("class", "p" + j)
      .attr("cx", function(d) { return x(gr) + d[0] * step; })
      .attr("cy", function(d) { return y(d[1]); })
      .attr("r", 2.5).attr("fill", "#000");
  });

  groups.forEach(function(gr, j) {
    var mx = x(gr), my = y(grpStats[j][5]), r = 4.2;
    g.append("path")
      .attr("d", "M" + mx + "," + (my - r) + "L" + (mx + r) + "," + my + "L" + mx + "," + (my + r) + "L" + (mx - r) + "," + my + "Z")
      .attr("fill", "#ffff00");
  });

  // panel border
  g.append("rect").attr("x", L[0]).attr("y", L[2]).attr("width", L[1] - L[0]).attr("height", L[3] - L[2])
    .attr("fill", "none").attr("stroke", "#444").attr("stroke-width", 0.9);

  // significance stars
  var n = significance[i].length;
  for (var k = 0; k < n; k++) {
    drawAsterisk(g, L[5] + (k - (n - 1) / 2) * 22, L[6], 7.4);
  }
});
</script>
</body>
</html>
